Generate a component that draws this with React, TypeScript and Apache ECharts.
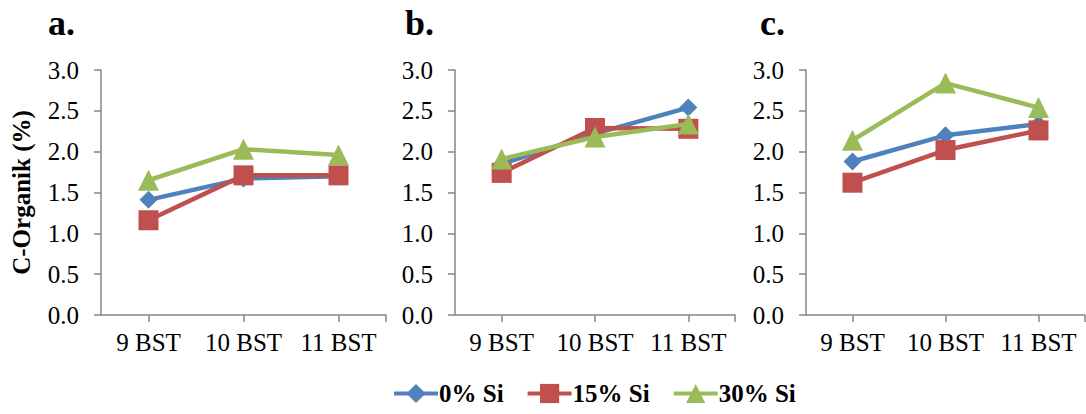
import React, { useEffect, useRef } from "react";
import * as echarts from "echarts";

const categories = ["9 BST", "10 BST", "11 BST"];
const seriesNames = ["0% Si", "15% Si", "30% Si"];
const panelTitles = ["a.", "b.", "c."];

const panelA_0 = [1.41, 1.67, 1.7];
const panelA_15 = [1.16, 1.71, 1.71];
const panelA_30 = [1.65, 2.03, 1.96];

const panelB_0 = [1.85, 2.22, 2.54];
const panelB_15 = [1.74, 2.29, 2.28];
const panelB_30 = [1.91, 2.18, 2.34];

const panelC_0 = [1.88, 2.2, 2.34];
const panelC_15 = [1.62, 2.02, 2.26];
const panelC_30 = [2.14, 2.84, 2.54];

const yTicks = [0, 0.5, 1.0, 1.5, 2.0, 2.5, 3.0];

const FONT = "Liberation Serif";
const COLORS = ["#4F81BD", "#C0504D", "#9BBB59"];
const SYMBOLS = ["diamond", "rect", "triangle"];
const SYMBOL_SIZES = [18, 20, 21];
const AXIS_COLOR = "#868686";

const panels = [
  [panelA_0, panelA_15, panelA_30],
  [panelB_0, panelB_15, panelB_30],
  [panelC_0, panelC_15, panelC_30],
];

const grids = [
  { left: 101, top: 70, width: 285, height: 245 },
  { left: 455, top: 70, width: 280, height: 245 },
  { left: 806, top: 70, width: 279, height: 245 },
];

const titlePos = [
  { left: 48, top: 5 },
  { left: 405, top: 5 },
  { left: 760, top: 5 },
];

export default function App() {
  const ref = useRef<HTMLDivElement>(null);
  useEffect(() => {
    if (!ref.current) return;
    const chart = echarts.init(ref.current, null, { renderer: "svg" });
    const tickVals = categories.map((_, i) => i + 0.5).concat([categories.length]);
    const labelVals = categories.map((_, i) => i + 0.5);

    const xAxis = grids.map((_, gi) => ({
      type: "value",
      gridIndex: gi,
      min: 0,
      max: categories.length,
      splitLine: { show: false },
      axisLine: { show: true, lineStyle: { color: AXIS_COLOR, width: 1.5 } },
      axisTick: {
        show: true,
        customValues: tickVals,
        length: 7,
        lineStyle: { color: AXIS_COLOR, width: 1.5 },
      },
      axisLabel: {
        customValues: labelVals,
        formatter: (v: number) => categories[Math.floor(v)] ?? "",
        color: "#000",
        fontFamily: FONT,
        fontSize: 25,
        margin: 15,
      },
    }));

    const yAxis = grids.map((_, gi) => ({
      type: "value",
      gridIndex: gi,
      min: yTicks[0],
      max: yTicks[yTicks.length - 1],
      interval: 0.5,
      splitLine: { show: false },
      axisLine: { show: true, lineStyle: { color: AXIS_COLOR, width: 1.5 } },
      axisTick: { show: true, length: 7, lineStyle: { color: AXIS_COLOR, width: 1.5 } },
      axisLabel: {
        formatter: (v: number) => v.toFixed(1),
        color: "#000",
        fontFamily: FONT,
        fontSize: 25,
        margin: 22,
      },
      name: gi === 0 ? "C-Organik (%)" : "",
      nameLocation: "middle",
      nameGap: 67,
      nameTextStyle: {
        color: "#000",
        fontFamily: FONT,
        fontSize: 25,
        fontWeight: "bold",
      },
    }));

    const series: any[] = [];
    panels.forEach((panel, pi) => {
      panel.forEach((vals, si) => {
        series.push({
          type: "line",
          name: seriesNames[si],
          xAxisIndex: pi,
          yAxisIndex: pi,
          data: vals.map((v, i) => [i + 0.5, v]),
          symbol: SYMBOLS[si],
          symbolSize: SYMBOL_SIZES[si],
          showSymbol: true,
          lineStyle: { color: COLORS[si], width: 4.5 },
          itemStyle: { color: COLORS[si] },
          z: 2 + si,
        });
      });
    });

    chart.setOption({
      animation: false,
      backgroundColor: "#fff",
      textStyle: { fontFamily: FONT },
      title: panelTitles.map((t, i) => ({
        text: t,
        left: titlePos[i].left,
        top: titlePos[i].top,
        padding: 0,
        textStyle: { fontFamily: FONT, fontSize: 36, fontWeight: "bold", color: "#000" },
      })),
      legend: {
        data: seriesNames,
        left: 392,
        top: 381,
        itemWidth: 44,
        itemHeight: 24,
        itemGap: 22,
        padding: 0,
        lineStyle: { width: 4 },
        textStyle: { fontFamily: FONT, fontSize: 25, fontWeight: "bold", color: "#000", padding: [0, 0, 0, -4] },
      },
      grid: grids.map((g) => ({ ...g, containLabel: false })),
      xAxis,
      yAxis,
      series,
    });
    return () => chart.dispose();
  }, []);
  return (
    <div
      ref={ref}
      style={{ position: "absolute", left: 0, top: 0, width: 1086, height: 414 }}
    />
  );
}
